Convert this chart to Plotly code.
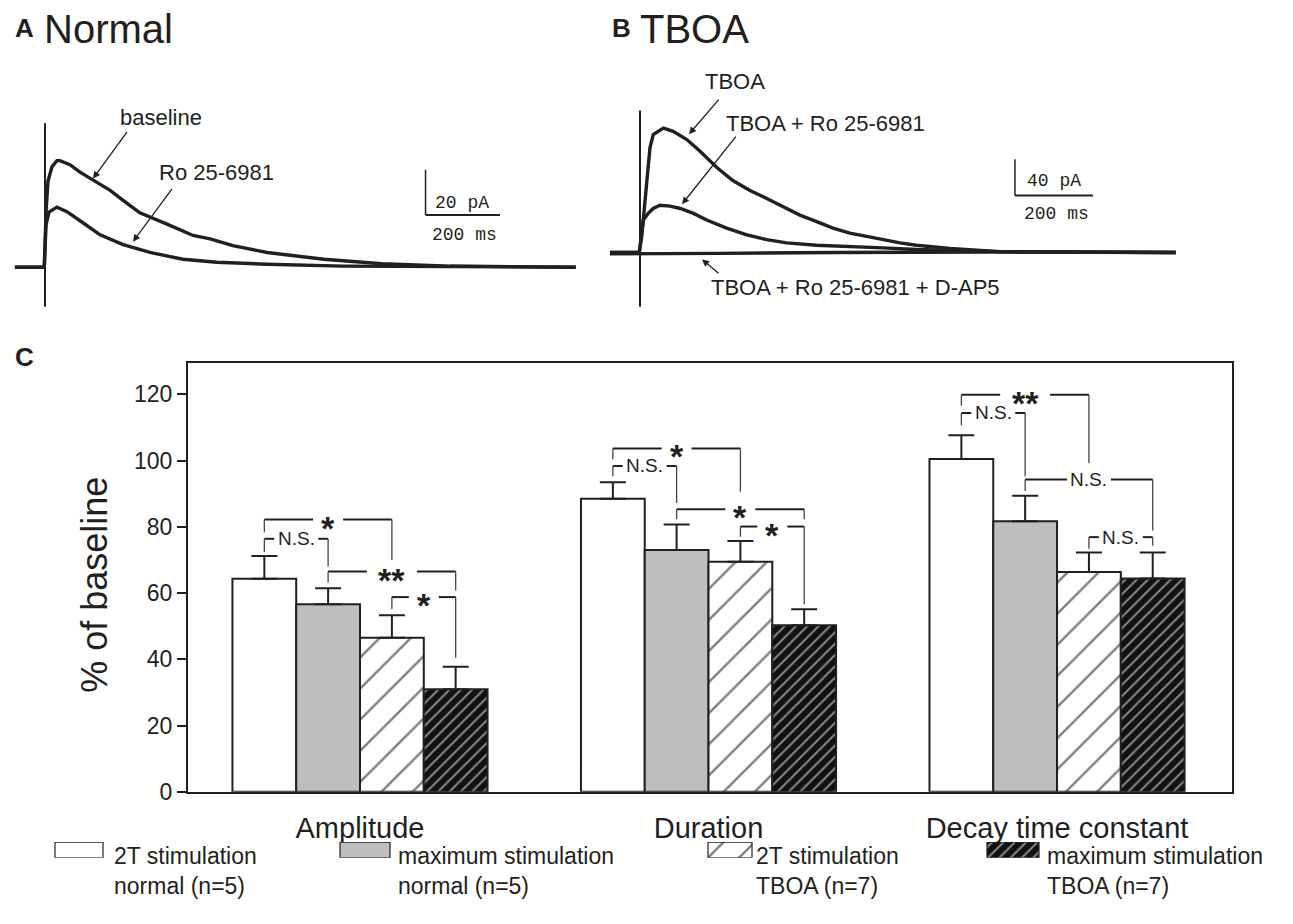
import plotly.graph_objects as go

# The page shows the figure 8px from the left edge; size and map coordinates accordingly.
PAGE_W, PAGE_H, LEFT = 1293, 924, 8
W, H = PAGE_W - LEFT, PAGE_H
TOP_SHIFT = 5  # small upward correction for the trace panels
FONT = "Liberation Sans, Arial, Helvetica, sans-serif"
INK = "#231f20"

# ---------------- Panel C data ----------------
measures = ["Amplitude", "Duration", "Decay time constant"]
series_line1 = ["2T stimulation", "maximum stimulation", "2T stimulation", "maximum stimulation"]
series_line2 = ["normal (n=5)", "normal (n=5)", "TBOA (n=7)", "TBOA (n=7)"]

mean_2t_normal = [64.3, 88.5, 100.5]
mean_max_normal = [56.6, 73.0, 81.7]
mean_2t_tboa = [46.5, 69.5, 66.4]
mean_max_tboa = [31.0, 50.3, 64.4]

sem_2t_normal = [6.9, 5.0, 7.2]
sem_max_normal = [4.9, 7.7, 7.7]
sem_2t_tboa = [6.8, 6.2, 5.9]
sem_max_tboa = [6.8, 4.8, 7.9]

# significance brackets: (measure idx, bar a, bar b, level, left end, right end, label)
brackets = [
    (0, 0, 2, 82.2, 78.4, 70.0, "*"),
    (0, 0, 1, 76.4, 72.4, 68.0, "N.S."),
    (0, 1, 3, 66.5, 63.2, 60.8, "**"),
    (0, 2, 3, 58.8, 55.2, 40.5, "*"),
    (1, 0, 2, 103.7, 100.4, 90.6, "*"),
    (1, 0, 1, 98.4, 95.3, 87.2, "N.S."),
    (1, 1, 3, 85.3, 82.3, 82.3, "*"),
    (1, 2, 3, 80.1, 77.0, 56.6, "*"),
    (2, 0, 2, 119.9, 116.6, 99.2, "**"),
    (2, 0, 1, 114.4, 110.7, 95.3, "N.S."),
    (2, 1, 3, 94.3, 90.8, 78.9, "N.S."),
    (2, 2, 3, 76.9, 73.4, 74.3, "N.S."),
]

# ---------------- Panel A traces (ms, pA) ----------------
tA_baseline = [-81, -2, 3, 8, 18.8, 32, 40, 67, 94, 134, 175, 218, 255, 328, 398, 444, 505, 597, 685, 750, 906, 1089, 1427]
iA_baseline = [0, 0, 25, 38, 44.3, 47, 47, 45.2, 41.9, 38, 33.9, 28.5, 24, 19, 14, 12.5, 9.5, 6.5, 4.9, 3.5, 1.5, 0.5, 0]
tA_ro = [-81, -2, 2.7, 10.8, 32, 59, 102, 148, 210, 282, 371, 462, 597, 801, 1427]
iA_ro = [0, 0, 18.7, 24.3, 26.5, 24.5, 19.6, 14.3, 10, 6.5, 3.5, 2.2, 1.3, 0.5, 0]
artA = [-17.4, 63.5]

# ---------------- Panel B traces (ms, pA) ----------------
tB_tboa = [-77, -2, 4.4, 17.2, 25.6, 34, 60, 85, 120, 154, 197, 238, 282, 325, 367, 410, 453, 495, 538, 581, 623, 667, 709, 795, 923, 1374]
iB_tboa = [0, 0, 17.8, 79.6, 116, 130.5, 137.7, 134, 125, 112, 94, 79.6, 68.7, 59.7, 50.5, 41.4, 34.1, 26.9, 21.5, 17.8, 15, 10.6, 8, 4.4, 1, 0]
tB_tboa_ro = [-77, -2, 8.5, 21, 34, 51, 77, 103, 137, 171, 222, 274, 325, 376, 453, 538, 623, 709, 923, 1374]
iB_tboa_ro = [0, 0, 36, 43.3, 48.7, 52.3, 51.3, 48.7, 43.3, 36, 26.9, 19.6, 14.2, 10.6, 8, 6.9, 5.1, 3.3, 1, 0]
tB_dap5 = [-77, 0, 200, 500, 900, 1374]
iB_dap5 = [-1.5, -1.5, -1, 0, 0.5, 0]
artB = [-60, 157]


def px(x):
    return (x - LEFT) / W


def py(y):
    return 1 - y / H


def pyt(y):
    return py(y - TOP_SHIFT)


def label(txt, x, yfrac, size, family=None, xanchor="center", **kw):
    return dict(x=px(x), y=yfrac, xref="paper", yref="paper", text=txt, showarrow=False,
                xanchor=xanchor, yanchor="middle",
                font=dict(family=family or FONT, size=size, color=INK), **kw)


fig = go.Figure()

# ---------- bars ----------
means = [mean_2t_normal, mean_max_normal, mean_2t_tboa, mean_max_tboa]
sems = [sem_2t_normal, sem_max_normal, sem_2t_tboa, sem_max_tboa]
markers = [
    dict(color="white", line=dict(color=INK, width=2)),
    dict(color="#bcbec0", line=dict(color=INK, width=2)),
    dict(color="white", line=dict(color=INK, width=2),
         pattern=dict(shape="/", fgcolor="#000000", bgcolor="white", size=22, solidity=0.11)),
    dict(color=INK, line=dict(color=INK, width=2),
         pattern=dict(shape="/", fgcolor="white", bgcolor="#111111", size=8, solidity=0.25)),
]
xs = list(range(len(measures)))
for k in range(4):
    fig.add_trace(go.Bar(
        x=xs, y=means[k], marker=markers[k], showlegend=False,
        error_y=dict(type="data", array=sems[k], arrayminus=[0] * len(xs), symmetric=False,
                     color=INK, thickness=2, width=13),
        xaxis="x", yaxis="y"))

bargap = 0.268
bw = (1 - bargap) / 4


def bar_x(g, k):
    return g + (k - 1.5) * bw


# ---------- brackets ----------
xunit_px = (1232 - 188) / (2.502 + 0.4935)
gap_px = {"*": 30, "**": 50, "N.S.": 44}
shapes = []
annotations = []
for g, a, b, lev, le, re, lab in brackets:
    xa, xb = bar_x(g, a), bar_x(g, b)
    xm = (xa + xb) / 2
    half = gap_px[lab] / 2 / xunit_px
    for x0, x1 in [(xa, xm - half), (xm + half, xb)]:
        shapes.append(dict(type="line", xref="x", yref="y", x0=x0, x1=x1, y0=lev, y1=lev,
                           line=dict(color=INK, width=2)))
    shapes.append(dict(type="line", xref="x", yref="y", x0=xa, x1=xa, y0=le, y1=lev,
                       line=dict(color="#444", width=1.3)))
    shapes.append(dict(type="line", xref="x", yref="y", x0=xb, x1=xb, y0=re, y1=lev,
                       line=dict(color="#444", width=1.3)))
    if lab == "N.S.":
        annotations.append(dict(x=xm, y=lev, xref="x", yref="y", text=lab, showarrow=False,
                                xanchor="center", yanchor="middle",
                                font=dict(family=FONT, size=19, color=INK)))
    else:
        annotations.append(dict(x=xm, y=lev, xref="x", yref="y", text="<b>" + lab + "</b>",
                                showarrow=False, yshift=-8, xanchor="center", yanchor="middle",
                                font=dict(family=FONT, size=34, color=INK)))

# ---------- Panel A & B traces ----------
tr_style = dict(mode="lines", line=dict(color=INK, width=3.4), showlegend=False, hoverinfo="skip")
fig.add_trace(go.Scatter(x=tA_baseline, y=iA_baseline, xaxis="x2", yaxis="y2", **tr_style))
fig.add_trace(go.Scatter(x=tA_ro, y=iA_ro, xaxis="x2", yaxis="y2", **tr_style))
fig.add_trace(go.Scatter(x=[0, 0], y=artA, xaxis="x2", yaxis="y2", mode="lines",
                         line=dict(color=INK, width=2), showlegend=False))
fig.add_trace(go.Scatter(x=tB_tboa, y=iB_tboa, xaxis="x3", yaxis="y3", **tr_style))
fig.add_trace(go.Scatter(x=tB_tboa_ro, y=iB_tboa_ro, xaxis="x3", yaxis="y3", **tr_style))
fig.add_trace(go.Scatter(x=tB_dap5, y=iB_dap5, xaxis="x3", yaxis="y3", **tr_style))
fig.add_trace(go.Scatter(x=[0, 0], y=artB, xaxis="x3", yaxis="y3", mode="lines",
                         line=dict(color=INK, width=2), showlegend=False))

# scale bars (data units: ms, pA)
for xr, yr, t0, i0, dt, di in [("x2", "y2", 1023, 23, 200, 20), ("x3", "y3", 961.5, 63.2, 200, 40)]:
    shapes.append(dict(type="line", xref=xr, yref=yr, x0=t0, x1=t0, y0=i0, y1=i0 + di,
                       line=dict(color=INK, width=1.5)))
    shapes.append(dict(type="line", xref=xr, yref=yr, x0=t0, x1=t0 + dt, y0=i0, y1=i0,
                       line=dict(color=INK, width=2)))

MONO = "Liberation Mono, DejaVu Sans Mono, monospace"
for txt, x, y in [("20 pA", 462, 203), ("200 ms", 464, 235), ("40 pA", 1054, 180), ("200 ms", 1056, 214)]:
    annotations.append(label(txt, x, pyt(y), 18, family=MONO))

for txt, x, y in [("baseline", 161, 116), ("Ro 25-6981", 216, 172), ("TBOA", 735, 80),
                  ("TBOA + Ro 25-6981", 825, 122), ("TBOA + Ro 25-6981 + D-AP5", 855, 288)]:
    annotations.append(label(txt, x, pyt(y), 22))

for (tx, ty), (hx, hy) in [((128, 130), (93, 178)), ((173, 188), (133, 242)), ((720, 97), (689, 133)),
                           ((737, 135), (682, 204)), ((720, 275), (702, 260))]:
    annotations.append(dict(x=px(hx), y=pyt(hy), xref="paper", yref="paper", text="", showarrow=True,
                            ax=tx - hx, ay=ty - hy, axref="pixel", ayref="pixel",
                            arrowhead=2, arrowsize=1.1, arrowwidth=1.3, arrowcolor=INK, standoff=0))

# panel headings
for txt, x, y, size in [("<b>A</b>", 13, 20, 26), ("Normal", 42, 21, 40), ("<b>B</b>", 610, 20, 26),
                        ("TBOA", 638, 21, 40)]:
    annotations.append(label(txt, x, py(y), size, xanchor="left"))
annotations.append(label("<b>C</b>", 13, py(354), 26, xanchor="left"))

# y-axis title
annotations.append(label("% of baseline", 95, py(585), 36, textangle=-90))

# ---------- legend (separate strip) ----------
leg_left = [55, 340, 708, 987]
leg_w = [48, 50, 44, 52]
leg_text_x = [112, 396, 754, 1045]
for k in range(4):
    m = dict(markers[k])
    m["line"] = dict(color=INK, width=1.2)
    fig.add_trace(go.Bar(orientation="h", y=[0], x=[leg_w[k]], base=[leg_left[k]], width=1, offset=-0.5,
                         marker=m, showlegend=False, xaxis="x4", yaxis="y4", hoverinfo="skip"))
    annotations.append(dict(x=px(leg_text_x[k]), y=py(845), xref="paper", yref="paper",
                            text=series_line1[k] + "<br>" + series_line2[k], showarrow=False,
                            xanchor="left", yanchor="top", align="left",
                            font=dict(family=FONT, size=23, color=INK)))

fig.update_layout(
    width=W, height=H, margin=dict(l=0, r=0, t=0, b=0),
    paper_bgcolor="white", plot_bgcolor="rgba(0,0,0,0)",
    barmode="group", bargap=bargap, bargroupgap=0,
    font=dict(family=FONT, color=INK),
    shapes=shapes, annotations=annotations,
    xaxis=dict(domain=[px(188), px(1232)], range=[-0.4935, 2.502], tickvals=xs, ticktext=measures,
               showline=True, mirror=True, linecolor=INK, linewidth=2, ticks="", showgrid=False,
               zeroline=False, ticklabelstandoff=9, tickfont=dict(family=FONT, size=29, color=INK)),
    yaxis=dict(domain=[py(795), py(360)], range=[0, 129.5], tickvals=[0, 20, 40, 60, 80, 100, 120],
               showline=True, mirror=True, linecolor=INK, linewidth=2, ticks="outside", ticklen=9,
               tickwidth=2, tickcolor=INK, showgrid=False, zeroline=False,
               tickfont=dict(family=FONT, size=23, color=INK)),
    xaxis2=dict(domain=[px(8), px(600)], range=[-99.5, 1492], visible=False),
    yaxis2=dict(domain=[pyt(330), pyt(80)], range=[-27, 81.7], visible=False),
    xaxis3=dict(domain=[px(600), px(1200)], range=[-102.6, 1436], visible=False),
    yaxis3=dict(domain=[pyt(330), pyt(70)], range=[-84, 199.6], visible=False),
    xaxis4=dict(domain=[0, 1], range=[LEFT, LEFT + W], visible=False),
    yaxis4=dict(domain=[py(862), py(846)], range=[-0.5, 0.5], visible=False),
)

fig.write_html("out.html")
